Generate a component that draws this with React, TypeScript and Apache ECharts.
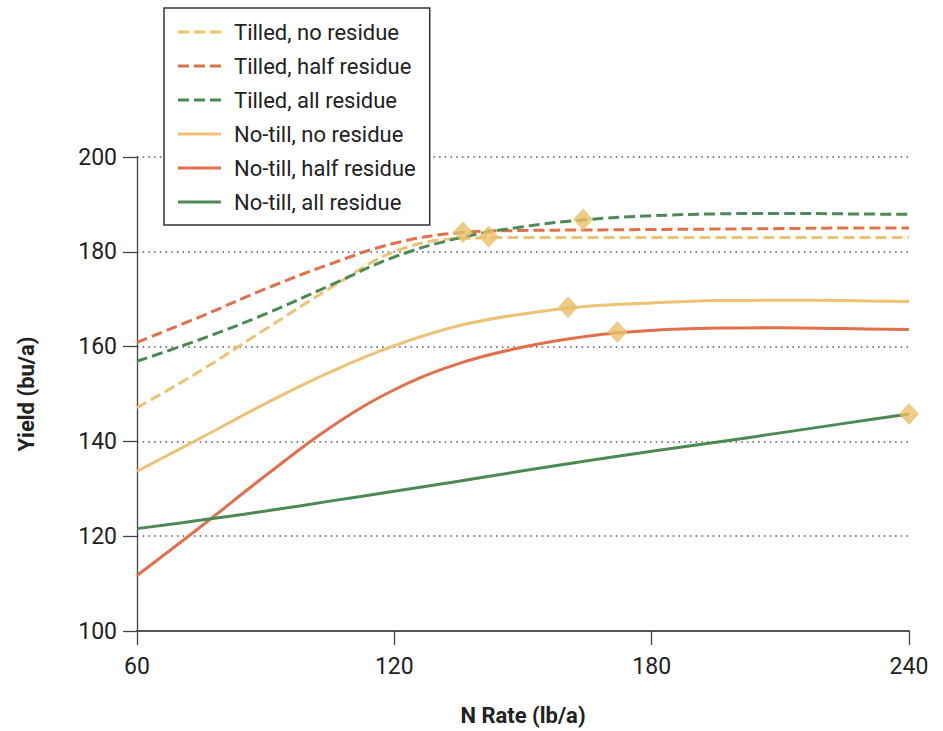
import React, { useEffect, useRef } from "react";
import * as echarts from "echarts";

const nRates = [60, 75, 90, 105, 120, 135, 150, 165, 180, 195, 210, 225, 240];

const tilledNoResidue = [147.1, 155.0, 163.7, 172.3, 180.0, 182.8, 183.0, 183.0, 183.0, 183.0, 183.0, 183.0, 183.0];
const tilledHalfResidue = [160.9, 166.4, 172.2, 177.4, 181.8, 184.0, 184.5, 184.6, 184.7, 184.8, 184.9, 185.0, 185.0];
const tilledAllResidue = [156.9, 161.6, 166.9, 172.9, 178.9, 182.9, 185.3, 186.8, 187.6, 188.0, 188.1, 188.0, 187.9];
const noTillNoResidue = [133.7, 140.8, 148.0, 154.6, 160.2, 164.4, 166.9, 168.5, 169.2, 169.7, 169.8, 169.7, 169.5];
const noTillHalfResidue = [111.7, 122.1, 132.8, 142.9, 150.9, 156.4, 159.9, 162.2, 163.4, 163.9, 164.0, 163.8, 163.6];
const noTillAllResidue = [121.6, 123.4, 125.3, 127.4, 129.5, 131.6, 133.8, 135.9, 137.9, 139.8, 141.8, 143.8, 145.8];

const optimumN = [136, 142, 164, 160.5, 172, 240];
const optimumYield = [184.1, 183.2, 186.8, 168.3, 163.1, 145.8];

const seriesNames = [
  "Tilled, no residue",
  "Tilled, half residue",
  "Tilled, all residue",
  "No-till, no residue",
  "No-till, half residue",
  "No-till, all residue",
];

const xTicks = [60, 120, 180, 240];
const yTicks = [100, 120, 140, 160, 180, 200];

const YELLOW = "#EDC373";
const ORANGE = "#E2714B";
const GREEN = "#4B8A52";
const FONT = "Roboto, 'Liberation Sans', sans-serif";

const DASH_ICON = "path://M0,0h11v3h-11z M16,0h11v3h-11z M32,0h11v3h-11z";
const SOLID_ICON = "path://M0,0h43v3h-43z";

export default function App() {
  const ref = useRef<HTMLDivElement>(null);
  useEffect(() => {
    if (!ref.current) return;
    const chart = echarts.init(ref.current, undefined, { renderer: "svg" });
    const values = [
      tilledNoResidue,
      tilledHalfResidue,
      tilledAllResidue,
      noTillNoResidue,
      noTillHalfResidue,
      noTillAllResidue,
    ];
    const colors = [YELLOW, ORANGE, GREEN, YELLOW, ORANGE, GREEN];
    const lineSeries = seriesNames.map((name, i) => ({
      name,
      type: "line",
      data: nRates.map((n, j) => [n, values[i][j]]),
      smooth: 0.4,
      symbol: "none",
      showSymbol: false,
      z: 3,
      color: colors[i],
      itemStyle: { color: colors[i] },
      lineStyle: {
        color: colors[i],
        width: 3,
        type: i < 3 ? [11, 5] : "solid",
      },
    }));
    chart.setOption({
      animation: false,
      textStyle: { fontFamily: FONT },
      grid: { left: 137, right: 34, top: 157, bottom: 97, containLabel: false },
      xAxis: {
        type: "value",
        min: 60,
        max: 240,
        interval: 60,
        name: "N Rate (lb/a)",
        nameLocation: "middle",
        nameGap: 73,
        nameTextStyle: { fontFamily: FONT, fontSize: 22, fontWeight: "bold", color: "#222" },
        axisLine: { show: true, onZero: false, lineStyle: { color: "#555", width: 2 } },
        axisTick: { show: true, length: 14, lineStyle: { color: "#444", width: 1.3 } },
        axisLabel: {
          fontFamily: FONT,
          fontSize: 23,
          color: "#222",
          margin: 24,
          formatter: (v: number) => (xTicks.includes(v) ? String(v) : ""),
        },
        splitLine: { show: false },
      },
      yAxis: {
        type: "value",
        min: 100,
        max: 200,
        interval: 20,
        name: "Yield (bu/a)",
        nameLocation: "middle",
        nameGap: 100,
        nameRotate: 90,
        nameTextStyle: { fontFamily: FONT, fontSize: 22, fontWeight: "bold", color: "#222" },
        axisLine: { show: true, onZero: false, lineStyle: { color: "#444", width: 1.3 } },
        axisTick: { show: true, length: 14, lineStyle: { color: "#444", width: 1.3 } },
        axisLabel: {
          fontFamily: FONT,
          fontSize: 23,
          color: "#222",
          margin: 20,
          formatter: (v: number) => (yTicks.includes(v) ? String(v) : ""),
        },
        splitLine: { show: true, lineStyle: { color: "#555", width: 1.5, type: [1.5, 4.2] } },
      },
      legend: {
        orient: "vertical",
        left: 164,
        top: 8,
        data: seriesNames.map((name, i) => ({ name, icon: i < 3 ? DASH_ICON : SOLID_ICON })),
        backgroundColor: "#fff",
        borderColor: "#333",
        borderWidth: 1.5,
        borderRadius: 0,
        padding: [13, 14, 12, 14],
        itemWidth: 43,
        itemHeight: 3,
        itemGap: 12,
        itemStyle: { borderWidth: 0 },
        z: 10,
        textStyle: {
          fontFamily: FONT,
          fontSize: 22,
          color: "#222",
          lineHeight: 20,
          padding: [0, 0, 0, 8],
        },
      },
      series: [
        ...lineSeries,
        {
          name: "Optimum",
          type: "scatter",
          data: optimumN.map((n, i) => [n, optimumYield[i]]),
          symbol: "diamond",
          symbolSize: [20, 22],
          itemStyle: { color: "#EBBF68" },
          z: 5,
        },
      ],
    });
    return () => chart.dispose();
  }, []);
  return <div ref={ref} style={{ width: 943, height: 731, position: "absolute", left: 0, top: 0 }} />;
}
